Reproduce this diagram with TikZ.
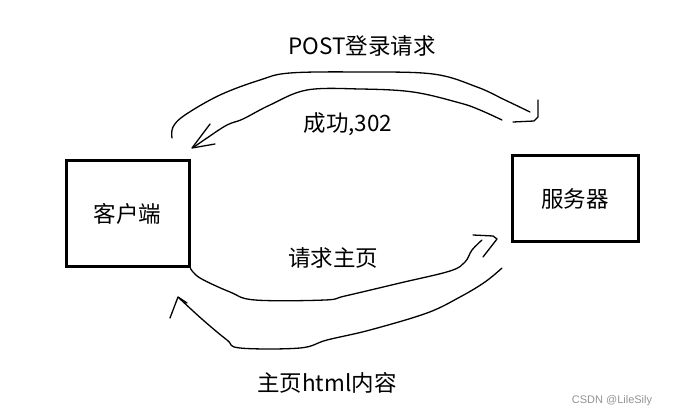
\documentclass[tikz,border=0pt]{standalone}
\usepackage{fontspec}
\setmainfont{Noto Sans CJK SC}
\newfontfamily\wmfont{Liberation Sans}
\begin{document}
\begin{tikzpicture}[x=1pt,y=-1pt]
\tikzset{
  lbl/.style={font=\fontsize{22.5}{26}\selectfont, inner sep=0pt},
  box/.style={draw, line width=3pt, font=\fontsize{22.5}{26}\selectfont, inner sep=0pt},
  hand/.style={line width=1.3pt, line cap=round, line join=round},
}
\useasboundingbox[fill=white] (0,0) rectangle (682,419);
% boxes
\node[box, minimum width=123pt, minimum height=106pt] (client) at (127.5,214) {客户端};
\node[box, minimum width=126pt, minimum height=86pt] (server) at (575,199) {服务器};
% labels
\node[lbl] (lpost) at (362,46) {POST登录请求};
\node[lbl] (lok) at (348,124) {成功,302};
\node[lbl] (lreq) at (333,258) {请求主页};
\node[lbl] (lhtml) at (327,383) {主页html内容};
\node[font=\wmfont\fontsize{11}{13}\selectfont, text=black!42, inner sep=0pt] (wm) at (612,401) {CSDN @LileSily};
% curve endpoints
\coordinate (a1) at (172,138);
\coordinate (a2) at (530,112);
\coordinate (b1) at (502,120);
\coordinate (b2) at (194,147);
\coordinate (c1) at (client.south east);
\coordinate (c2) at (482,240);
\coordinate (d1) at (502,268);
\coordinate (d2) at (179,298);
% POST arc
\draw[hand] plot[smooth, tension=0.6] coordinates {(a1) (173,127) (185,115) (220,95) (260,80) (290,73) (360,72) (433,74) (477,87) (505,100) (a2)};
\draw[hand] (538,100) -- (538,117) -- (534,121) -- (513,122);
% 302 arc
\draw[hand] plot[smooth, tension=0.6] coordinates {(b1) (480,110) (460,103) (413,92) (360,89) (307,90) (270,105) (243,119) (227,125) (207,138) (b2)};
\draw[hand] (210,124) -- (192,148) -- (215,144);
% request arc
\draw[hand] plot[smooth, tension=0.6] coordinates {(c1) (200,278) (230,292) (255,300) (325,300) (345,296) (400,283) (450,271) (465,262) (472,250) (c2)};
\draw[hand] (473,235) -- (493,236) -- (497,239) -- (483,257);
% html arc
\draw[hand] plot[smooth, tension=0.6] coordinates {(d1) (485,282) (460,297) (427,313) (370,330) (327,340) (300,348) (240,348) (227,340) (203,320) (d2)};
\draw[hand] (170,318) -- (178,297) -- (187,303);
\end{tikzpicture}
\end{document}
